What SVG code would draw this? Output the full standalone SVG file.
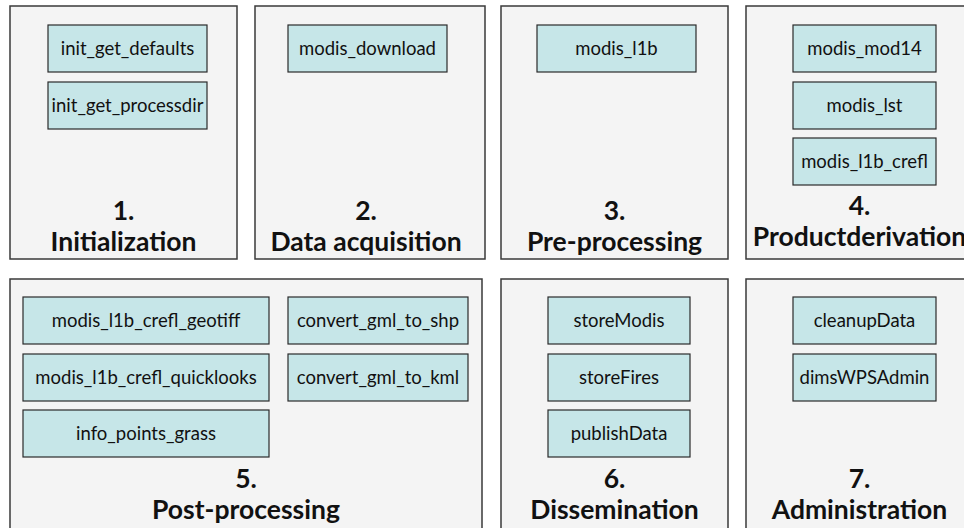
<svg xmlns="http://www.w3.org/2000/svg" width="964" height="528" viewBox="0 0 964 528">
<style>
.panel{fill:#f4f4f4;stroke:#3a3a3a;stroke-width:1.5}
.box{fill:#c6e6e8;stroke:#2a2a2a;stroke-width:1.2}
.t{font-family:Lato,"Open Sans",sans-serif;font-size:18.5px;fill:#111;text-anchor:middle}
.h{font-family:Lato,"Open Sans",sans-serif;font-size:26.5px;font-weight:bold;fill:#111;text-anchor:middle}
</style>
<rect width="964" height="528" fill="#ffffff"/>
<g id="p1">
<rect class="panel" x="10" y="6" width="227" height="253"/>
<g id="init_get_defaults"><rect class="box" x="48" y="25" width="159" height="47"/><text class="t" x="127.5" y="55">init_get_defaults</text></g>
<g id="init_get_processdir"><rect class="box" x="48" y="82" width="159" height="47"/><text class="t" x="127.5" y="112">init_get_processdir</text></g>
<text class="h" x="123.5" y="220">1.</text>
<text class="h" x="123.5" y="251">Initialization</text>
</g>
<g id="p2">
<rect class="panel" x="255" y="6" width="230" height="253"/>
<g id="modis_download"><rect class="box" x="288" y="25" width="159" height="47"/><text class="t" x="367.5" y="55">modis_download</text></g>
<text class="h" x="366" y="220">2.</text>
<text class="h" x="366" y="251">Data acquisition</text>
</g>
<g id="p3">
<rect class="panel" x="501" y="6" width="227" height="253"/>
<g id="modis_l1b"><rect class="box" x="537" y="25" width="159" height="47"/><text class="t" x="616.5" y="55">modis_l1b</text></g>
<text class="h" x="614.5" y="220">3.</text>
<text class="h" x="614.5" y="251">Pre-processing</text>
</g>
<g id="p4">
<rect class="panel" x="746" y="6" width="227" height="253"/>
<g id="modis_mod14"><rect class="box" x="793" y="25" width="143" height="47"/><text class="t" x="864.5" y="55">modis_mod14</text></g>
<g id="modis_lst"><rect class="box" x="793" y="82" width="143" height="47"/><text class="t" x="864.5" y="112">modis_lst</text></g>
<g id="modis_l1b_crefl"><rect class="box" x="793" y="138" width="143" height="47"/><text class="t" x="864.5" y="168">modis_l1b_crefl</text></g>
<text class="h" x="859.5" y="215">4.</text>
<text class="h" x="859.5" y="246">Productderivation</text>
</g>
<g id="p5">
<rect class="panel" x="10" y="279" width="472" height="260"/>
<g id="modis_l1b_crefl_geotiff"><rect class="box" x="23" y="297" width="246" height="47"/><text class="t" x="146" y="327">modis_l1b_crefl_geotiff</text></g>
<g id="modis_l1b_crefl_quicklooks"><rect class="box" x="23" y="354" width="246" height="47"/><text class="t" x="146" y="384">modis_l1b_crefl_quicklooks</text></g>
<g id="info_points_grass"><rect class="box" x="23" y="410" width="246" height="47"/><text class="t" x="146" y="440">info_points_grass</text></g>
<g id="convert_gml_to_shp"><rect class="box" x="288" y="297" width="180" height="47"/><text class="t" x="378" y="327">convert_gml_to_shp</text></g>
<g id="convert_gml_to_kml"><rect class="box" x="288" y="354" width="180" height="47"/><text class="t" x="378" y="384">convert_gml_to_kml</text></g>
<text class="h" x="246" y="488">5.</text>
<text class="h" x="246" y="519">Post-processing</text>
</g>
<g id="p6">
<rect class="panel" x="501" y="279" width="227" height="260"/>
<g id="storeModis"><rect class="box" x="548" y="297" width="142" height="47"/><text class="t" x="619" y="327">storeModis</text></g>
<g id="storeFires"><rect class="box" x="548" y="354" width="142" height="47"/><text class="t" x="619" y="384">storeFires</text></g>
<g id="publishData"><rect class="box" x="548" y="410" width="142" height="47"/><text class="t" x="619" y="440">publishData</text></g>
<text class="h" x="614.5" y="488">6.</text>
<text class="h" x="614.5" y="519">Dissemination</text>
</g>
<g id="p7">
<rect class="panel" x="746" y="279" width="227" height="260"/>
<g id="cleanupData"><rect class="box" x="793" y="297" width="143" height="47"/><text class="t" x="864.5" y="327">cleanupData</text></g>
<g id="dimsWPSAdmin"><rect class="box" x="793" y="354" width="143" height="47"/><text class="t" x="864.5" y="384">dimsWPSAdmin</text></g>
<text class="h" x="859.5" y="488">7.</text>
<text class="h" x="859.5" y="519">Administration</text>
</g>
<g id="connectors"/>
</svg>
